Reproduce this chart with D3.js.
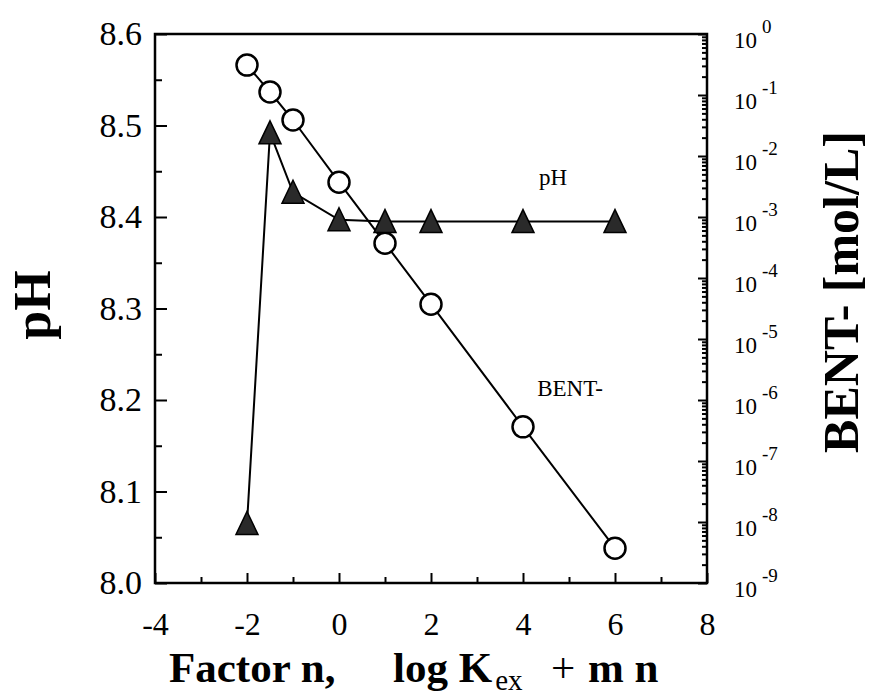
<!DOCTYPE html>
<html>
<head>
<meta charset="utf-8">
<script src="https://cdn.jsdelivr.net/npm/d3@7"></script>
<style>
  body { margin: 0; background: #fff; }
  text { font-family: "Liberation Serif", "Times New Roman", serif; }
</style>
</head>
<body>
<script>

// data
const factorN = [-2, -1.5, -1, 0, 1, 2, 4, 6];
const phVals = [8.065, 8.492, 8.427, 8.397, 8.395, 8.395, 8.395, 8.395];
const bentVals = [0.309, 0.112, 0.0389, 0.00372, 3.72e-4, 3.72e-5, 3.63e-7, 3.72e-9];

const xTicks = [-4, -2, 0, 2, 4, 6, 8];
const xMinor = [-3, -1, 1, 3, 5, 7];
const phTicks = [8.0, 8.1, 8.2, 8.3, 8.4, 8.5, 8.6];
const phMinor = [8.05, 8.15, 8.25, 8.35, 8.45, 8.55];
const decades = [0, -1, -2, -3, -4, -5, -6, -7, -8, -9];

var width = 872,
    height = 698,
    pLeft = 155, pRight = 707, pTop = 34, pBottom = 583;

var x = d3.scaleLinear().domain([-4, 8]).range([pLeft, pRight]);
var y = d3.scaleLinear().domain([8.0, 8.6]).range([pBottom, pTop]);
var yr = d3.scaleLog().domain([1e-9, 1]).range([pBottom, pTop]);

var svg = d3.select("body").append("svg")
    .attr("width", width)
    .attr("height", height);

// left axis
svg.append("g")
    .attr("transform", `translate(${pLeft},0)`)
    .call(d3.axisLeft(y).tickValues(phTicks).tickSize(-12).tickPadding(13).tickFormat(d3.format(".1f")))
    .attr("font-size", 34)
    .attr("font-family", null);
svg.append("g")
    .attr("transform", `translate(${pLeft},0)`)
    .call(d3.axisLeft(y).tickValues(phMinor).tickSize(-7).tickFormat(""));

// bottom axis
svg.append("g")
    .attr("transform", `translate(0,${pBottom})`)
    .call(d3.axisBottom(x).tickValues(xTicks).tickSize(-10).tickPadding(29).tickFormat(d => String(d)))
    .attr("font-size", 32)
    .attr("font-family", null);
svg.append("g")
    .attr("transform", `translate(0,${pBottom})`)
    .call(d3.axisBottom(x).tickValues(xMinor).tickSize(-6).tickFormat(""));

// right log axis
var minorLog = [];
decades.slice(1).forEach(e => {
    for (var k = 2; k <= 9; k++) minorLog.push(k * Math.pow(10, e));
});
svg.append("g")
    .attr("transform", `translate(${pRight},0)`)
    .call(d3.axisRight(yr).tickValues(decades.map(e => Math.pow(10, e))).tickSize(-9).tickFormat(""));
svg.append("g")
    .attr("transform", `translate(${pRight},0)`)
    .call(d3.axisRight(yr).tickValues(minorLog).tickSize(-5).tickFormat(""));

var rl = svg.append("g").selectAll("text")
    .data(decades)
    .enter()
    .append("text")
    .attr("x", pRight + 27)
    .attr("y", d => yr(Math.pow(10, d)) + 14)
    .attr("font-size", 23);
rl.append("tspan").text("10");
rl.append("tspan")
    .attr("dx", 5)
    .attr("dy", -15)
    .attr("font-size", 19)
    .text(d => d === 0 ? "0" : String(d));

svg.selectAll(".domain").remove();
svg.selectAll(".tick line").attr("stroke", "#000").attr("stroke-width", 2);
svg.selectAll(".tick text").attr("fill", "#000");

// frame
svg.append("rect")
    .attr("x", pLeft).attr("y", pTop)
    .attr("width", pRight - pLeft).attr("height", pBottom - pTop)
    .attr("fill", "none")
    .attr("stroke", "#000")
    .attr("stroke-width", 2.5);

// lines
var pts = factorN.map((n, i) => ({ n: n, ph: phVals[i], b: bentVals[i] }));

svg.append("path")
    .datum(pts)
    .attr("fill", "none")
    .attr("stroke", "#000")
    .attr("stroke-width", 2)
    .attr("d", d3.line().x(d => x(d.n)).y(d => y(d.ph)));

svg.append("path")
    .datum(pts)
    .attr("fill", "none")
    .attr("stroke", "#000")
    .attr("stroke-width", 2)
    .attr("d", d3.line().x(d => x(d.n)).y(d => yr(d.b)));

svg.append("g").selectAll("circle")
    .data(pts)
    .enter()
    .append("circle")
    .attr("cx", d => x(d.n))
    .attr("cy", d => yr(d.b))
    .attr("r", 10.5)
    .attr("fill", "#fff")
    .attr("stroke", "#000")
    .attr("stroke-width", 2.5);

svg.append("g").selectAll("path")
    .data(pts)
    .enter()
    .append("path")
    .attr("transform", d => `translate(${x(d.n)},${y(d.ph)})`)
    .attr("d", "M0,-12L11,11L-11,11Z")
    .attr("fill", "#2a2a2a")
    .attr("stroke", "#000")
    .attr("stroke-width", 1.5);

// series labels
svg.append("text")
    .attr("x", 553).attr("y", 185)
    .attr("text-anchor", "middle")
    .attr("font-size", 23)
    .text("pH");
svg.append("text")
    .attr("x", 570).attr("y", 396)
    .attr("text-anchor", "middle")
    .attr("font-size", 23)
    .text("BENT-");

// axis titles
svg.append("text")
    .attr("transform", "translate(50,305) rotate(-90)")
    .attr("text-anchor", "middle")
    .attr("font-size", 52)
    .attr("font-weight", "bold")
    .text("pH");

svg.append("text")
    .attr("transform", "translate(858,292) rotate(-90)")
    .attr("text-anchor", "middle")
    .attr("font-size", 50)
    .attr("font-weight", "bold")
    .text("BENT- [mol/L]");

var xt = svg.append("text")
    .attr("x", 169).attr("y", 682)
    .attr("font-size", 43)
    .attr("font-weight", "bold")
    .style("white-space", "pre");
xt.append("tspan").text("Factor n,");
xt.append("tspan").attr("x", 393).text("log K");
xt.append("tspan").attr("font-size", 29).attr("font-weight", "normal").attr("dx", 3).attr("dy", 8).text("ex");
xt.append("tspan").attr("x", 551).attr("dy", -8).attr("font-weight", "normal").text("+");
xt.append("tspan").attr("x", 588).text("m n");

</script>
</body>
</html>
